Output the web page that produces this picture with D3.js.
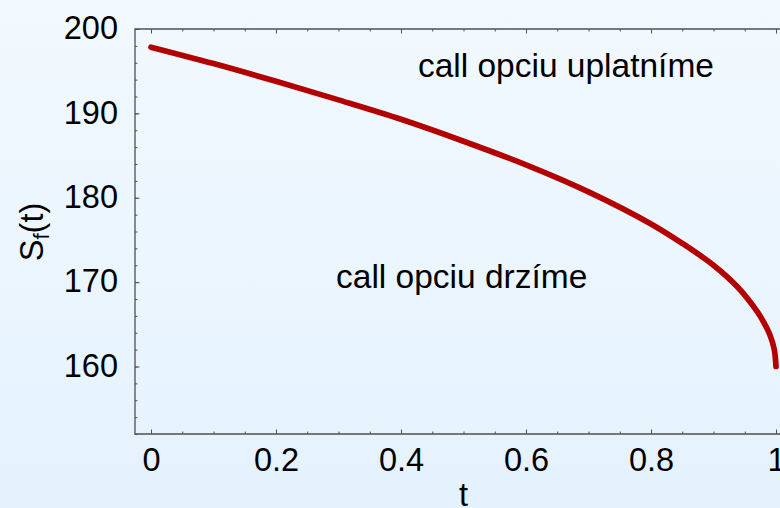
<!DOCTYPE html>
<html><head><meta charset="utf-8">
<script src="https://cdn.jsdelivr.net/npm/d3@7"></script>
<style>html,body{margin:0;padding:0;overflow:hidden;}svg{display:block;}</style>
</head><body>
<svg id="chart" width="780" height="508"></svg>
<script>
// Data
const tValues = [0, 0.1, 0.2, 0.3, 0.4, 0.5, 0.6, 0.7, 0.8, 0.85, 0.9, 0.94, 0.97, 0.98, 0.99, 0.997, 1];
const sfValues = [197.85, 195.9, 193.8, 191.6, 189.3, 186.7, 183.9, 180.7, 176.9, 174.6, 172.0, 169.3, 166.5, 165.3, 163.8, 162.1, 160];
const xTicks = [0, 0.2, 0.4, 0.6, 0.8, 1];
const xTickLabels = ["0", "0.2", "0.4", "0.6", "0.8", "1"];
const yTicks = [160, 170, 180, 190, 200];
const yTickLabels = ["160", "170", "180", "190", "200"];
const annotations = [
  {text: "call opciu uplatníme", t: 0.427, s: 194.3},
  {text: "call opciu drzíme", t: 0.296, s: 169.3}
];

const W = 780, H = 508;
const svg = d3.select("#chart");
const defs = svg.append("defs");
const grad = defs.append("linearGradient").attr("id","bg").attr("x1",0).attr("y1",0).attr("x2",0).attr("y2",1);
grad.append("stop").attr("offset","0%").attr("stop-color","#f2f9ff");
grad.append("stop").attr("offset","100%").attr("stop-color","#e4f2fd");
svg.append("rect").attr("width",W).attr("height",H).attr("fill","url(#bg)");

const x = d3.scaleLinear().domain([-0.0256, 1.0064]).range([135, 780]);
const y = d3.scaleLinear().domain([152, 200]).range([434, 29]);

const font = "'Liberation Sans', Arial, Helvetica, sans-serif";
const frameColor = "#505050";

// minor ticks
const xMinor = d3.range(0, 1.0001, 0.05).map(v => +v.toFixed(2));
const yMinor = d3.range(152, 200.1, 2);

function styleAxis(g){
  g.select(".domain").remove();
  g.selectAll(".tick line").attr("stroke", frameColor).attr("stroke-width", 1);
  g.selectAll(".tick text").attr("fill","#000").style("font-family", font).style("font-size","32.5px");
}

// bottom axis
svg.append("g").attr("transform","translate(0,434)")
  .call(d3.axisBottom(x).tickValues(xMinor).tickSize(-2.5).tickFormat(""))
  .call(styleAxis);
const xAx = svg.append("g").attr("transform","translate(0,434)")
  .call(d3.axisBottom(x).tickValues(xTicks).tickSize(-4.5).tickPadding(14)
    .tickFormat((d,i)=>xTickLabels[i]))
  .call(styleAxis);
xAx.selectAll(".tick text").attr("dy","0.71em");
// top axis ticks
svg.append("g").attr("transform","translate(0,29)")
  .call(d3.axisTop(x).tickValues(xMinor).tickSize(-2.5).tickFormat(""))
  .call(styleAxis);
svg.append("g").attr("transform","translate(0,29)")
  .call(d3.axisTop(x).tickValues(xTicks).tickSize(-4.5).tickFormat(""))
  .call(styleAxis);
// left axis
svg.append("g").attr("transform","translate(135,0)")
  .call(d3.axisLeft(y).tickValues(yMinor).tickSize(-2.5).tickFormat(""))
  .call(styleAxis);
const yAx = svg.append("g").attr("transform","translate(135,0)")
  .call(d3.axisLeft(y).tickValues(yTicks).tickSize(-4.5).tickPadding(17)
    .tickFormat((d,i)=>yTickLabels[i]))
  .call(styleAxis);
yAx.selectAll(".tick text").attr("dy","0.3em");

// frame
svg.append("path")
  .attr("d", `M${x.range()[1]},${y(200)}H${x.range()[0]}V${y(152)}H${x.range()[1]}`)
  .attr("fill","none").attr("stroke",frameColor).attr("stroke-width",1.3);

// curve
const line = d3.line().x((d,i)=>x(tValues[i])).y(d=>y(d)).curve(d3.curveCatmullRom.alpha(0.5));
svg.append("path").datum(sfValues).attr("d", line)
  .attr("fill","none").attr("stroke","#b30000").attr("stroke-width",5.7)
  .attr("stroke-linecap","round").attr("stroke-linejoin","round");

// annotations
svg.selectAll("text.ann").data(annotations).enter().append("text")
  .attr("class","ann")
  .attr("x", d=>x(d.t)).attr("y", d=>y(d.s))
  .style("font-family", font).style("font-size","33.5px").attr("fill","#000")
  .text(d=>d.text);

// axis titles
svg.append("text").attr("x", x(0.5)).attr("y", 506).attr("text-anchor","middle")
  .style("font-family", font).style("font-size","32.5px").text("t");
const yl = svg.append("text").attr("transform","translate(43,232) rotate(-90)")
  .attr("text-anchor","middle").style("font-family", font).style("font-size","32.5px");
yl.append("tspan").text("S");
yl.append("tspan").attr("dy","6").style("font-size","22px").text("f");
yl.append("tspan").attr("dy","-6").text("(t)");
</script>
</body></html>
